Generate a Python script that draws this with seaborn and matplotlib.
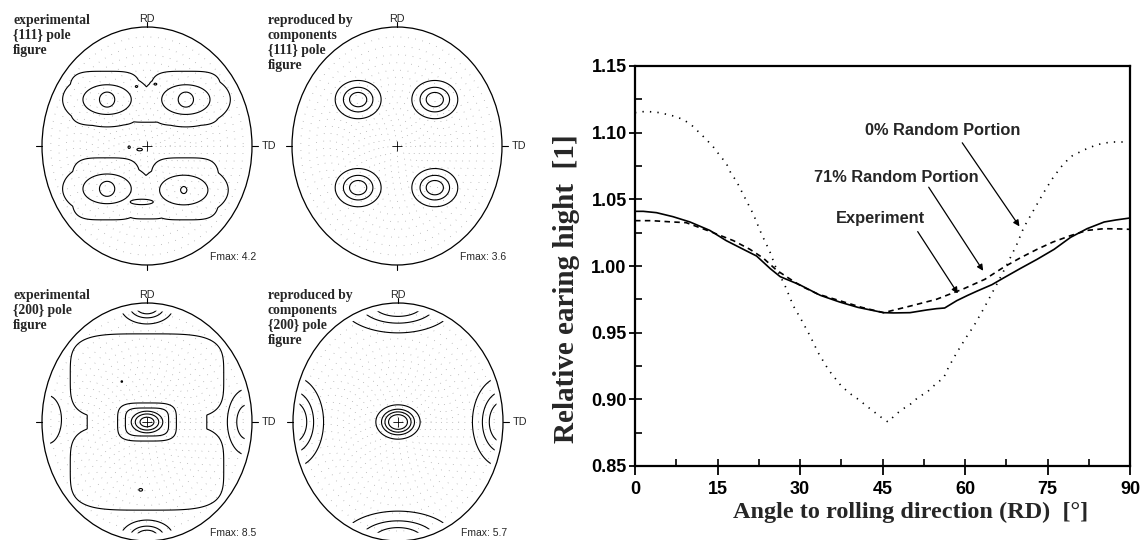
import numpy as np
import pandas as pd
import matplotlib
matplotlib.use("Agg")
import matplotlib.pyplot as plt
import seaborn as sns
from matplotlib.patches import Ellipse
from matplotlib.ticker import MultipleLocator

# ---------------- earing profile (right chart) ----------------
angle_exp = [0, 1.5, 3.9, 6.9, 10, 13.6, 16.6, 19.7, 22.1, 24.6, 26.4, 29.9, 33.7, 37.2,
             40.5, 45.2, 47, 50, 53, 54.8, 56.3, 58.5, 60.5, 62.1, 64.9, 67, 70, 73.1,
             76.2, 79.2, 82.2, 85.3, 87.4, 90]
height_exp = [1.041, 1.041, 1.040, 1.037, 1.033, 1.0267, 1.019, 1.0125, 1.0075, 0.998, 0.992,
              0.986, 0.978, 0.973, 0.969, 0.965, 0.9648, 0.965, 0.967, 0.968, 0.9685, 0.974,
              0.978, 0.981, 0.986, 0.991, 0.998, 1.005, 1.0125, 1.0215, 1.028, 1.033, 1.0345, 1.036]

angle_71 = [0, 3, 6.9, 9.3, 13.6, 17.9, 20.9, 23.3, 25.7, 27.9, 30.2, 33.2, 37.2, 41.2, 45.2,
            50.1, 54.8, 59.8, 63.6, 67, 70, 73.1, 76, 79.2, 82.2, 85.3, 88, 90]
height_71 = [1.034, 1.034, 1.033, 1.0325, 1.026, 1.019, 1.0125, 1.006, 0.997, 0.991, 0.985,
             0.979, 0.974, 0.969, 0.965, 0.970, 0.975, 0.983, 0.990, 0.999, 1.006, 1.0125,
             1.018, 1.0228, 1.0267, 1.028, 1.0278, 1.0275]

angle_0 = [0, 2, 4.5, 7, 8.7, 10.2, 12.7, 14.2, 15.4, 16.6, 17.5, 18.4, 20, 21.5, 23, 24.5,
           25.5, 27.3, 28.8, 30.2, 31.9, 33.3, 35.2, 37.5, 39.2, 40.6, 42.1, 44.6, 46, 47.5,
           48.8, 50.3, 51.6, 53, 54.8, 56.1, 57, 58.5, 60.3, 61.6, 63.4, 64.7, 66, 67.5, 69.4,
           70.7, 72.5, 74.3, 75.8, 77.4, 79.2, 81.6, 84, 86.5, 89]
height_0 = [1.115, 1.116, 1.115, 1.1125, 1.110, 1.106, 1.096, 1.0895, 1.083, 1.077, 1.069,
            1.064, 1.051, 1.039, 1.024, 1.011, 1.000, 0.985, 0.970, 0.960, 0.947, 0.935,
            0.922, 0.910, 0.904, 0.900, 0.895, 0.887, 0.883, 0.889, 0.893, 0.897, 0.902,
            0.905, 0.912, 0.916, 0.924, 0.935, 0.947, 0.955, 0.968, 0.978, 0.988, 1.000,
            1.016, 1.029, 1.042, 1.055, 1.065, 1.074, 1.082, 1.087, 1.091, 1.093, 1.093]

series_names = ["Experiment", "71% Random Portion", "0% Random Portion"]

# ---------------- pole figure components ----------------
# (u along TD, v along RD, width u, width v, intensity above 1, shape exponent)
pf111_exp = [
    (-0.40, 0.40, 0.31, 0.21, 0.8, 4), (0.37, 0.40, 0.31, 0.21, 0.8, 4), (0.0, 0.33, 0.2, 0.12, 0.8, 4),
    (-0.39, -0.36, 0.30, 0.24, 0.8, 4), (0.36, -0.36, 0.30, 0.24, 0.8, 4), (0.0, -0.45, 0.2, 0.15, 0.8, 4),
    (-0.38, 0.39, 0.24, 0.13, 1.9, 2), (0.37, 0.39, 0.24, 0.13, 1.9, 2),
    (-0.38, -0.36, 0.24, 0.13, 1.9, 2), (0.35, -0.37, 0.24, 0.13, 1.9, 2),
    (-0.38, 0.39, 0.075, 0.065, 3.2, 2), (0.37, 0.39, 0.075, 0.065, 3.2, 2),
    (-0.38, -0.36, 0.075, 0.065, 3.2, 2), (0.35, -0.37, 0.03, 0.03, 3.2, 2),
    (-0.10, 0.50, 0.03, 0.02, 1.3, 2), (0.08, 0.52, 0.035, 0.02, 1.3, 2),
    (-0.07, -0.03, 0.03, 0.012, 0.6, 2), (-0.17, -0.01, 0.012, 0.012, 0.6, 2),
    (0.55, -0.17, 0.012, 0.012, 0.55, 2), (-0.05, -0.47, 0.145, 0.03, 1.6, 2),
]
pf111_calc = [
    (-0.37, 0.39, 0.113, 0.083, 2.6, 2), (0.36, 0.39, 0.113, 0.083, 2.6, 2),
    (-0.37, -0.35, 0.113, 0.083, 2.6, 2), (0.36, -0.35, 0.113, 0.083, 2.6, 2),
]
pf200_exp = [
    (0.0, 0.38, 0.77, 0.38, 0.6, 4), (0.0, -0.38, 0.77, 0.38, 0.6, 4), (0.0, 0.0, 0.60, 0.30, 0.6, 4),
    (0.0, 0.0, 0.252, 0.144, 3.0, 4), (0.0, 0.0, 0.124, 0.075, 7.5, 2),
    (0.0, 0.97, 0.12, 0.07, 3.5, 2), (0.0, -0.97, 0.12, 0.07, 3.5, 2),
    (-0.95, 0.02, 0.10, 0.15, 1.0, 2), (0.95, 0.0, 0.10, 0.15, 2.2, 2),
    (-0.24, 0.34, 0.02, 0.02, 1.5, 2), (-0.2, 0.46, 0.008, 0.008, 1.45, 2),
    (-0.06, -0.57, 0.04, 0.025, 1.55, 2),
]
pf200_calc = [
    (0.0, 0.0, 0.095, 0.065, 4.7, 2),
    (0.0, 1.0, 0.27, 0.125, 3.0, 2), (0.0, -1.0, 0.27, 0.125, 3.0, 2),
    (-1.0, 0.0, 0.145, 0.19, 3.0, 2), (1.0, 0.0, 0.145, 0.19, 3.0, 2),
]
pf_titles = ["experimental\n{111} pole\nfigure", "reproduced by\ncomponents\n{111} pole\nfigure",
             "experimental\n{200} pole\nfigure", "reproduced by\ncomponents\n{200} pole\nfigure"]
pf_fmax = ["Fmax: 4.2", "Fmax: 3.6", "Fmax: 8.5", "Fmax: 5.7"]
pf_levels = [[1.4, 2.2, 3.0], [1.4, 2.2, 3.0], [1.4, 2.4, 3.4, 4.6, 6.0, 7.5], [1.4, 2.2, 3.0, 4.0]]

sns.set_theme(style="white")
plt.rcParams["font.family"] = ["Liberation Sans", "DejaVu Sans"]

fig = plt.figure(figsize=(11.43, 5.40), dpi=100)

# pole figures drawn in pixel coordinates
pf = fig.add_axes([0, 0, 580 / 1143, 1])
pf.set_xlim(0, 580)
pf.set_ylim(540, 0)
pf.axis("off")

grid = np.linspace(-1.2, 1.2, 401)
U, V = np.meshgrid(grid, grid)


def field(blobs):
    z = np.zeros_like(U)
    for u0, v0, su, sv, amp, p in blobs:
        z = np.maximum(z, amp * np.exp(-0.5 * (np.abs((U - u0) / su) ** p + np.abs((V - v0) / sv) ** p)))
    return 1 + z


rx, ry = 105, 119
rings = np.tan(np.radians(np.arange(5, 90, 5)) / 2)
theta = np.linspace(0, 2 * np.pi, 500)
centers = [(147, 146), (397, 146), (147, 422), (398, 422)]
title_pos = [(13, 14), (268, 14), (13, 289), (268, 289)]
clips = [0.94, 0.95, 0.94, 0.95]

for i, blobs in enumerate([pf111_exp, pf111_calc, pf200_exp, pf200_calc]):
    cx, cy = centers[i]
    for r in rings:
        pf.plot(cx + r * rx * np.cos(theta), cy + r * ry * np.sin(theta),
                color="0.6", lw=0.7, dashes=(0.6, 7))
    pf.add_patch(Ellipse((cx, cy), 2 * rx, 2 * ry, fill=False, ec="black", lw=0.9))
    cs = pf.contour(cx + rx * U, cy - ry * V, field(blobs), levels=pf_levels[i],
                    colors="black", linewidths=0.8)
    cs.set_clip_path(Ellipse((cx, cy), 2 * rx * clips[i], 2 * ry * clips[i], transform=pf.transData))
    pf.plot(cx, cy, marker="+", color="black", ms=7, mew=0.6)
    pf.plot([cx, cx], [cy - ry - 5, cy - ry], color="black", lw=0.8)
    pf.plot([cx, cx], [cy + ry, cy + ry + 5], color="black", lw=0.8)
    pf.plot([cx - rx - 6, cx - rx], [cy, cy], color="black", lw=0.8)
    pf.plot([cx + rx, cx + rx + 6], [cy, cy], color="black", lw=0.8)
    pf.text(cx, cy - ry - 8, "RD", ha="center", va="center", fontsize=7.8)
    pf.text(cx + rx + 10, cy, "TD", ha="left", va="center", fontsize=7.8)
    pf.text(cx + 63, cy + 111, pf_fmax[i], ha="left", va="center", fontsize=7.5)
    pf.text(title_pos[i][0], title_pos[i][1], pf_titles[i], ha="left", va="top",
            fontsize=9.8, fontweight="bold", family="Liberation Serif", linespacing=1.2)

# ---------------- earing chart ----------------
df = pd.concat([
    pd.DataFrame({"angle": angle_exp, "height": height_exp, "series": series_names[0]}),
    pd.DataFrame({"angle": angle_71, "height": height_71, "series": series_names[1]}),
    pd.DataFrame({"angle": angle_0, "height": height_0, "series": series_names[2]}),
])

x0, x1, y0, y1 = 635, 1130, 66, 466
ax = fig.add_axes([x0 / 1143, 1 - y1 / 540, (x1 - x0) / 1143, (y1 - y0) / 540])
sns.lineplot(data=df, x="angle", y="height", style="series", style_order=series_names,
             dashes={series_names[0]: "", series_names[1]: (3.3, 2.6), series_names[2]: (0.8, 3.7)},
             color="black", linewidth=1.2, estimator=None, sort=False, legend=False, ax=ax)

ax.set_xlim(0, 90)
ax.set_ylim(0.85, 1.15)
ax.set_xticks(range(0, 91, 15))
ax.set_yticks(np.arange(0.85, 1.151, 0.05))
ax.set_yticklabels([f"{t:.2f}" for t in np.arange(0.85, 1.151, 0.05)])
ax.xaxis.set_minor_locator(MultipleLocator(7.5))
ax.yaxis.set_minor_locator(MultipleLocator(0.025))
ax.xaxis.remove_overlapping_locs = False
ax.yaxis.remove_overlapping_locs = False
ax.tick_params(bottom=True, left=True, which="both", colors="black")
ax.tick_params(axis="x", which="major", direction="out", length=6.5, width=1.3, labelsize=13, pad=4)
ax.tick_params(axis="y", which="major", direction="out", length=4, width=1.3, labelsize=13, pad=2)
ax.tick_params(which="minor", direction="in", length=5, width=1.2)
for lab in ax.get_xticklabels() + ax.get_yticklabels():
    lab.set_fontweight("bold")
for sp in ax.spines.values():
    sp.set_linewidth(1.6)
    sp.set_color("black")
ax.set_xlabel("")
ax.set_ylabel("")

fig.text(911 / 1143, 1 - 512 / 540, "Angle to rolling direction (RD)  [°]", ha="center", va="center",
         fontsize=17.5, fontweight="bold", family="Liberation Serif")
fig.text(566 / 1143, 1 - 289 / 540, "Relative earing hight  [1]", ha="center", va="center",
         rotation=90, fontsize=21, fontweight="bold", family="Liberation Serif")

ax.text(55.9, 1.1019, "0% Random Portion", ha="center", va="center", fontsize=11.8, fontweight="bold")
ax.text(47.6, 1.0663, "71% Random Portion", ha="center", va="center", fontsize=11.8, fontweight="bold")
ax.text(44.7, 1.0356, "Experiment", ha="center", va="center", fontsize=11.8, fontweight="bold")
arrow = dict(arrowstyle="-|>", color="black", lw=0.9, mutation_scale=9, shrinkA=0, shrinkB=0)
ax.annotate("", xy=(69.9, 1.0297), xytext=(59.5, 1.0924), arrowprops=arrow)
ax.annotate("", xy=(63.3, 0.9964), xytext=(53.4, 1.0591), arrowprops=arrow)
ax.annotate("", xy=(58.7, 0.9794), xytext=(51.4, 1.0258), arrowprops=arrow)

fig.savefig("out.png", dpi=100)
